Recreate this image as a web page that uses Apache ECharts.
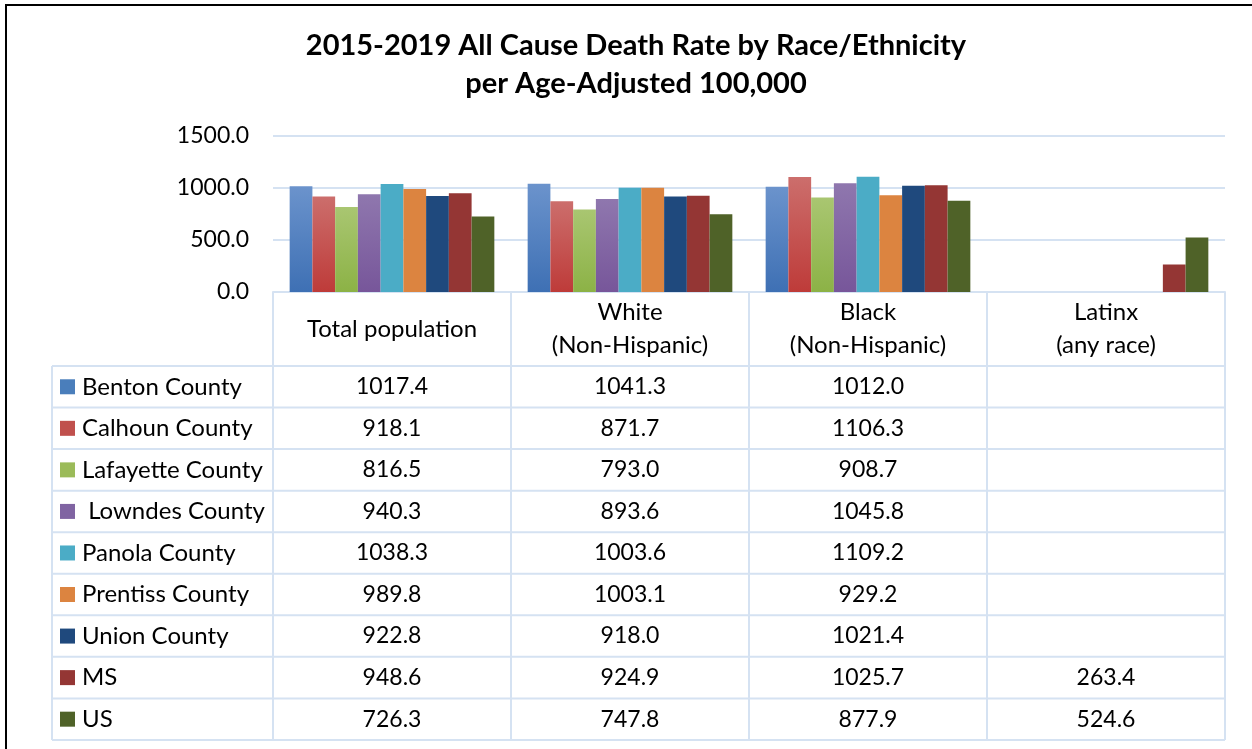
<!DOCTYPE html>
<html>
<head>
<meta charset="utf-8">
<script src="https://cdn.jsdelivr.net/npm/echarts@6/dist/echarts.min.js"></script>
<style>html,body{margin:0;padding:0;background:#fff;}#c{width:1252px;height:749px;}</style>
</head>
<body>
<div id="c"></div>
<script>
// ---- data ----
var categories = ['Total population', 'White\n(Non-Hispanic)', 'Black\n(Non-Hispanic)', 'Latinx\n(any race)'];
var seriesNames = ['Benton County', 'Calhoun County', 'Lafayette County', ' Lowndes County', 'Panola County', 'Prentiss County', 'Union County', 'MS', 'US'];
var benton    = [1017.4, 1041.3, 1012.0, null];
var calhoun   = [918.1, 871.7, 1106.3, null];
var lafayette = [816.5, 793.0, 908.7, null];
var lowndes   = [940.3, 893.6, 1045.8, null];
var panola    = [1038.3, 1003.6, 1109.2, null];
var prentiss  = [989.8, 1003.1, 929.2, null];
var union     = [922.8, 918.0, 1021.4, null];
var ms        = [948.6, 924.9, 1025.7, 263.4];
var us        = [726.3, 747.8, 877.9, 524.6];
var yTicks = [0, 500, 1000, 1500];

var seriesValues = [benton, calhoun, lafayette, lowndes, panola, prentiss, union, ms, us];
// ---- styles ----
var topColors = ['#6b93cc', '#cc6e6c', '#a9c671', '#8f77ae', '#4bacc6', '#dc8440', '#1f497d', '#943634', '#4f6228'];
var botColors = ['#3e70b4', '#be3b39', '#8cb246', '#77569a', '#4bacc6', '#dc8440', '#1f497d', '#943634', '#4f6228'];
var swatch = ['#4a7ebb', '#c0504d', '#9bbb59', '#8064a2', '#4bacc6', '#dc8440', '#1f497d', '#943634', '#4f6228'];
var FONT = 'Lato';
var lineColor = '#d5e2f2';

var chart = echarts.init(document.getElementById('c'));
var series = seriesNames.map(function (n, i) {
  return {
    name: n, type: 'bar', data: seriesValues[i],
    barGap: '0%', barCategoryGap: '14%',
    itemStyle: {
      color: new echarts.graphic.LinearGradient(0, 0, 0, 1, [
        { offset: 0, color: topColors[i] }, { offset: 1, color: botColors[i] }
      ])
    },
    animation: false
  };
});

chart.setOption({
  animation: false,
  title: {
    text: '2015-2019 All Cause Death Rate by Race/Ethnicity\nper Age-Adjusted 100,000',
    left: 631, textAlign: 'center', top: 22,
    textStyle: { fontFamily: FONT, fontSize: 29, fontWeight: 'bold', color: '#000', lineHeight: 38 }
  },
  grid: { left: 273, right: 27, top: 136, bottom: 457 },
  xAxis: {
    type: 'category', data: categories,
    axisLine: { lineStyle: { color: lineColor, width: 2 } },
    axisTick: { show: false },
    axisLabel: {
      interval: 0, margin: 37, verticalAlign: 'middle',
      fontFamily: FONT, fontSize: 24, color: '#000', lineHeight: 33
    }
  },
  yAxis: {
    type: 'value', min: 0, max: 1500, interval: 500,
    axisLine: { show: false }, axisTick: { show: false },
    splitLine: { lineStyle: { color: lineColor, width: 2 } },
    axisLabel: {
      margin: 24, fontFamily: FONT, fontSize: 23, color: '#000',
      formatter: function (v) { return v.toFixed(1); }
    }
  },
  series: series
});

// ---- data table below the plot ----
var c0 = chart.convertToPixel({ xAxisIndex: 0 }, 0);
var c1 = chart.convertToPixel({ xAxisIndex: 0 }, 1);
var half = (c1 - c0) / 2;
var y0 = chart.convertToPixel({ yAxisIndex: 0 }, 0);
var colB = [];
for (var k = 0; k <= categories.length; k++) colB.push(c0 - half + k * 2 * half);
var tableLeft = 52, tableTop = 366, rowH = 41.55;
var nRows = seriesNames.length;
var tableBottom = tableTop + nRows * rowH;
var g = [];
// frame
g.push({ type: 'rect', shape: { x: 6, y: 5, width: 1400, height: 900 }, style: { fill: null, stroke: '#000', lineWidth: 2 }, z: 0 });
// header vertical lines
colB.forEach(function (x) {
  g.push({ type: 'line', shape: { x1: x, y1: y0, x2: x, y2: tableTop }, style: { stroke: lineColor, lineWidth: 2 } });
});
// row horizontal lines
for (var r = 0; r <= nRows; r++) {
  var y = tableTop + r * rowH;
  g.push({ type: 'line', shape: { x1: tableLeft, y1: y, x2: colB[colB.length - 1], y2: y }, style: { stroke: lineColor, lineWidth: 2 } });
}
// body vertical lines
[tableLeft].concat(colB).forEach(function (x) {
  g.push({ type: 'line', shape: { x1: x, y1: tableTop, x2: x, y2: tableBottom }, style: { stroke: lineColor, lineWidth: 2 } });
});
// legend keys and values
seriesNames.forEach(function (n, i) {
  var cy = tableTop + (i + 0.5) * rowH;
  g.push({ type: 'rect', shape: { x: 60, y: cy - 7.5, width: 15, height: 15 }, style: { fill: swatch[i] } });
  g.push({ type: 'text', x: 82, y: cy, style: { text: n, fontFamily: FONT, fontSize: 24, fill: '#000', verticalAlign: 'middle', align: 'left' } });
  seriesValues[i].forEach(function (v, j) {
    if (v === null) return;
    g.push({ type: 'text', x: (colB[j] + colB[j + 1]) / 2, y: cy, style: { text: v.toFixed(1), fontFamily: FONT, fontSize: 23, fill: '#000', verticalAlign: 'middle', align: 'center' } });
  });
});
chart.setOption({ graphic: g });
</script>
</body>
</html>
